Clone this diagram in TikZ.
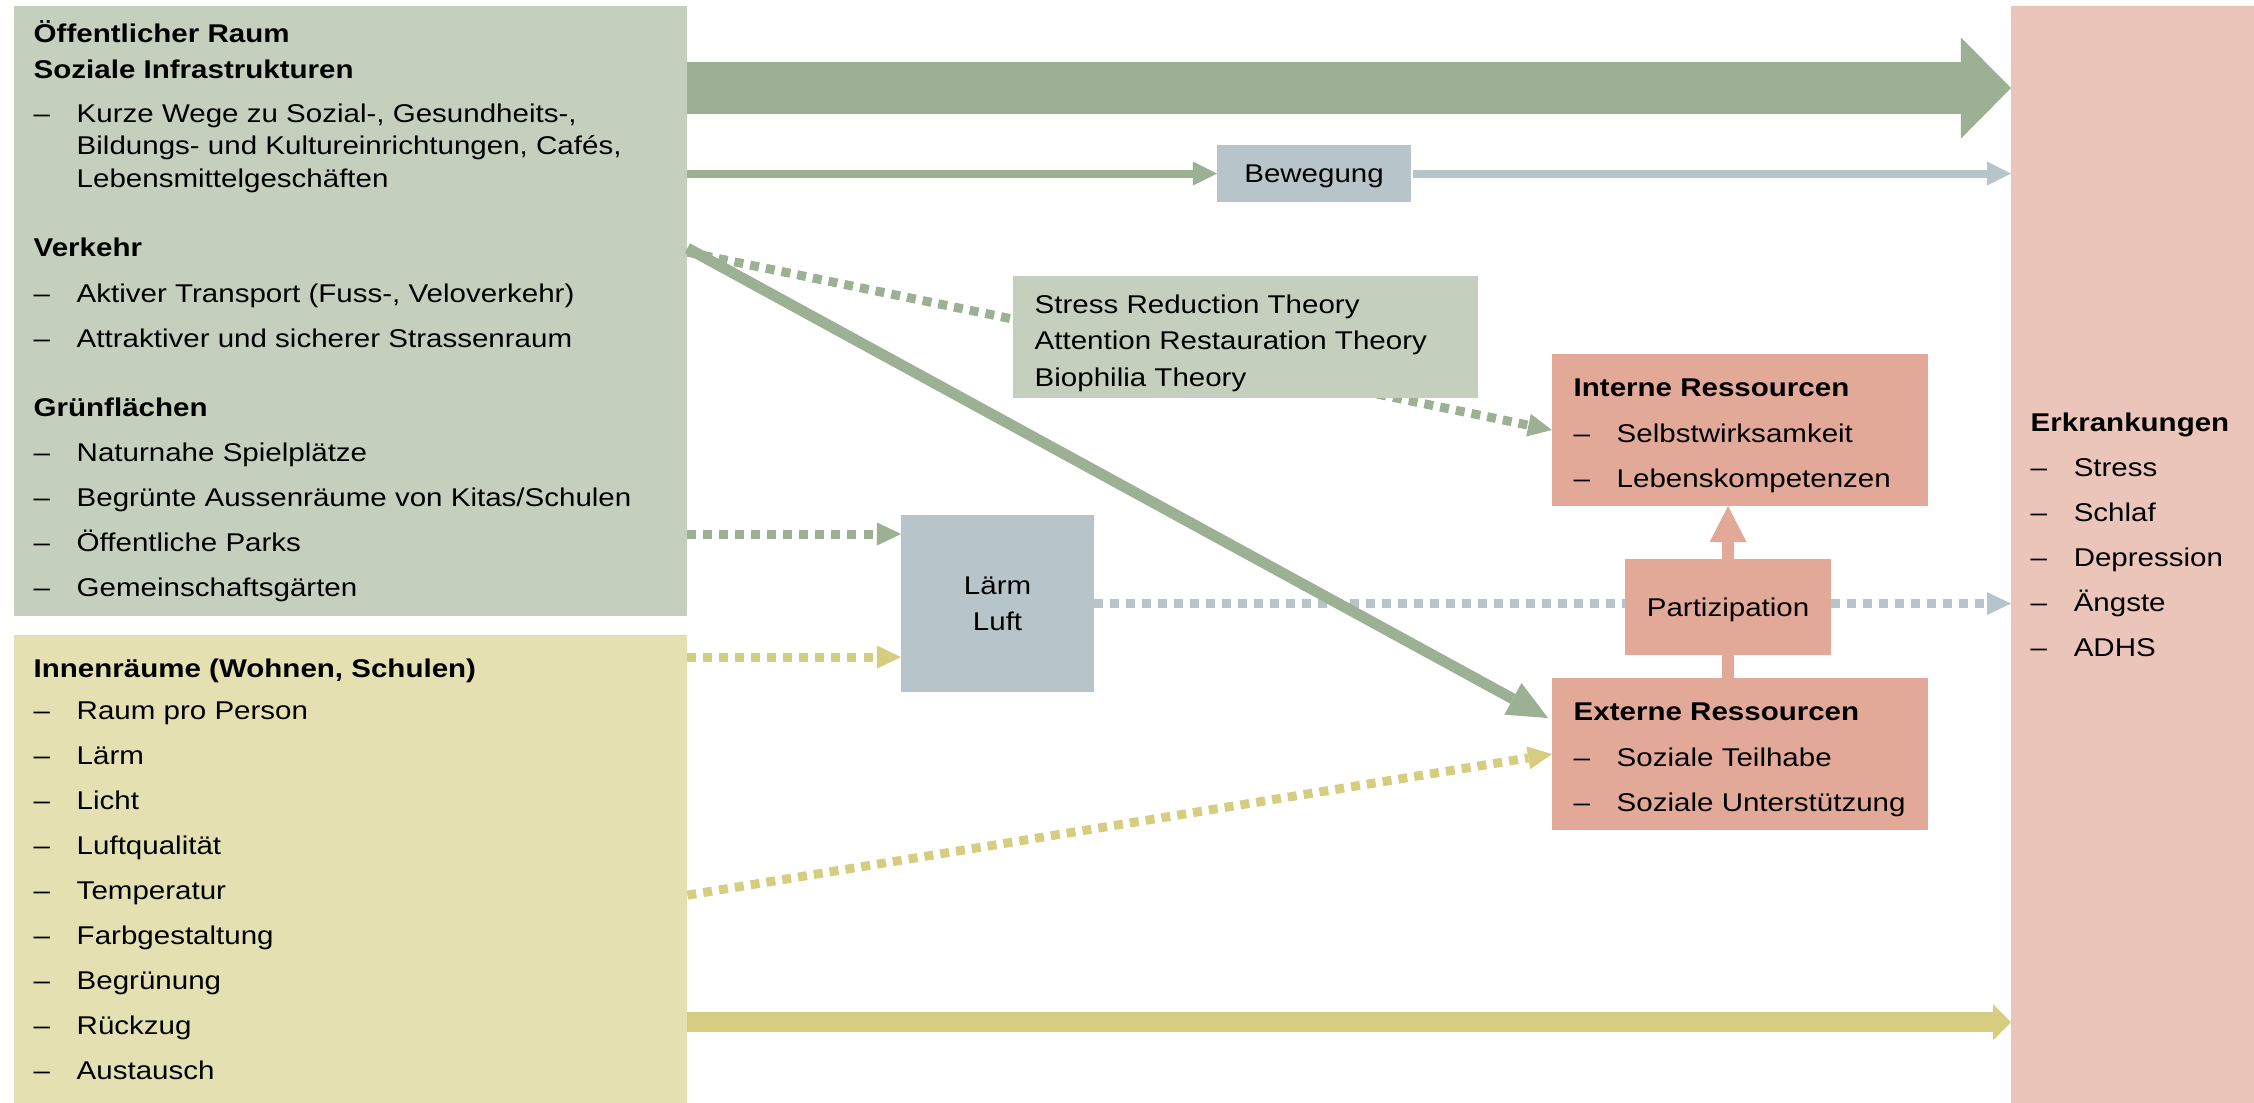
\documentclass[tikz,border=0pt]{standalone}
\usepackage{fontspec}
\setmainfont{Liberation Sans}[FakeStretch=1.15]
\usetikzlibrary{arrows.meta, positioning, backgrounds}

\definecolor{salbei}{HTML}{C4D0BD}
\definecolor{gruen}{HTML}{9CB093}
\definecolor{sand}{HTML}{E5E0B2}
\definecolor{gelb}{HTML}{D6CD81}
\definecolor{rosa}{HTML}{EBC5BA}
\definecolor{lachs}{HTML}{E2A998}
\definecolor{graublau}{HTML}{B7C4CA}

\newcommand{\strich}{\makebox[0.43cm][l]{--}}
\newcommand{\einzug}{\hspace*{0.43cm}}

\tikzset{
  kasten/.style={anchor=north west, inner sep=0pt, outer sep=0pt, text depth=0pt},
  liste/.style={align=left, inner sep=0pt},
  punktiert/.style={line width=0.09cm, dash pattern=on 0.09cm off 0.07cm,
    -{Triangle[length=0.24cm, width=0.23cm, line width=0pt]}},
}

\begin{document}
\begin{tikzpicture}[x=0.01cm, y=-0.01cm, font=\fontsize{7.3}{9.2}\selectfont]
    \useasboundingbox (0,0) rectangle (2254,1103);

    % Boxes on the left
    \node[kasten, fill=salbei, minimum width=6.73cm, minimum height=6.10cm] (oeffentlich) at (14,6) {};
    \node[kasten, fill=sand, minimum width=6.73cm, minimum height=4.68cm] (innen) at (14,635) {};

    % Box on the right
    \node[kasten, fill=rosa, minimum width=2.43cm, minimum height=10.97cm] (erkrankung) at (2011,6) {};

    % Boxes in the middle
    \node[kasten, fill=graublau, minimum width=1.94cm, minimum height=0.57cm] (bewegung) at (1217,145) {Bewegung};
    \node[kasten, fill=salbei, minimum width=4.65cm, minimum height=1.22cm] (theorie) at (1013,276) {};
    \node[kasten, fill=graublau, minimum width=1.93cm, minimum height=1.77cm, align=center] (laerm) at (901,515) {Lärm\\[1pt]Luft};
    \node[kasten, fill=lachs, minimum width=3.76cm, minimum height=1.52cm] (intern) at (1552,354) {};
    \node[kasten, fill=lachs, minimum width=2.06cm, minimum height=0.96cm] (partizipation) at (1625,559) {Partizipation};
    \node[kasten, fill=lachs, minimum width=3.76cm, minimum height=1.52cm] (extern) at (1552,678) {};

    % Texts in the boxes
    \node[liste, right=0.19cm of oeffentlich.west] (oeffentlich-text) {%
        \textbf{Öffentlicher Raum}\\[1pt]
        \textbf{Soziale Infrastrukturen}\\[3.4pt]
        \strich Kurze Wege zu Sozial-, Gesundheits-,\\
        \einzug Bildungs- und Kultureinrichtungen, Cafés,\\
        \einzug Lebensmittelgeschäften\\[10.5pt]
        \textbf{Verkehr}\\[3.8pt]
        \strich Aktiver Transport (Fuss-, Veloverkehr)\\[3.8pt]
        \strich Attraktiver und sicherer Strassenraum\\[10.2pt]
        \textbf{Grünflächen}\\[3.8pt]
        \strich Naturnahe Spielplätze\\[3.6pt]
        \strich Begrünte Aussenräume von Kitas/Schulen\\[3.4pt]
        \strich Öffentliche Parks\\[3.8pt]
        \strich Gemeinschaftsgärten};
    \node[liste, right=0.19cm of innen.west] (innen-text) {%
        \textbf{Innenräume (Wohnen, Schulen)}\\[2.7pt]
        \strich Raum pro Person\\[3.6pt]
        \strich Lärm\\[3.6pt]
        \strich Licht\\[3.6pt]
        \strich Luftqualität\\[3.6pt]
        \strich Temperatur\\[3.6pt]
        \strich Farbgestaltung\\[3.6pt]
        \strich Begrünung\\[3.6pt]
        \strich Rückzug\\[3.6pt]
        \strich Austausch};
    \node[liste, right=0.19cm of erkrankung.west, yshift=0.2cm] (erkrankung-text) {%
        \textbf{Erkrankungen}\\[3.6pt]
        \strich Stress\\[3.6pt]
        \strich Schlaf\\[3.6pt]
        \strich Depression\\[3.6pt]
        \strich Ängste\\[3.6pt]
        \strich ADHS};
    \node[liste, right=0.21cm of theorie.west, yshift=-0.06cm] (theorie-text) {%
        Stress Reduction Theory\\[1.2pt]
        Attention Restauration Theory\\[1.2pt]
        Biophilia Theory};
    \node[liste, right=0.21cm of intern.west, yshift=-0.06cm] (intern-text) {%
        \textbf{Interne Ressourcen}\\[3.8pt]
        \strich Selbstwirksamkeit\\[3.8pt]
        \strich Lebenskompetenzen};
    \node[liste, right=0.21cm of extern.west, yshift=-0.06cm] (extern-text) {%
        \textbf{Externe Ressourcen}\\[3.8pt]
        \strich Soziale Teilhabe\\[3.8pt]
        \strich Soziale Unterstützung};

    % Start points on the box edges
    \coordinate (raum) at ([yshift=-0.82cm]oeffentlich.north east);
    \coordinate (diagonal) at ([yshift=-2.42cm]oeffentlich.north east);
    \coordinate (stress) at ([yshift=-2.46cm]oeffentlich.north east);
    \coordinate (gruenpunkt) at ([yshift=-0.19cm]laerm.north west);
    \coordinate (gelbpunkt) at ([yshift=-1.42cm]laerm.north west);
    \coordinate (rueckzug) at ([yshift=-3.87cm]innen.north east);
    \coordinate (teilhabe) at ([xshift=-0.04cm, yshift=-0.40cm]extern.north west);

    % Solid arrows
    \draw[gruen, line width=0.52cm, -{Triangle[length=0.5cm, width=1.01cm, line width=0pt]}]
        (raum) -- (raum -| erkrankung.west);
    \draw[gruen, line width=0.08cm, -{Triangle[length=0.24cm, width=0.24cm, line width=0pt]}]
        (oeffentlich.east |- bewegung.west) -- (bewegung.west);
    \draw[graublau, line width=0.08cm, -{Triangle[length=0.24cm, width=0.24cm, line width=0pt]}]
        ([xshift=0.02cm]bewegung.east) -- (bewegung.east -| erkrankung.west);
    \draw[gelb, line width=0.2cm, -{Triangle[length=0.18cm, width=0.36cm, line width=0pt]}]
        (rueckzug) -- (rueckzug -| erkrankung.west);

    % Lines running behind the boxes
    \begin{scope}[on background layer]
        \draw[gruen, punktiert] (stress) -- (intern.west);
        \draw[graublau, punktiert] (laerm.east) -- (laerm.east -| erkrankung.west);
        \draw[lachs, line width=0.12cm, -{Triangle[length=0.36cm, width=0.37cm, line width=0pt]}]
            (partizipation.center |- extern.north) -- (partizipation.center |- intern.south);
    \end{scope}

    % Dotted arrows
    \draw[gruen, punktiert] (oeffentlich.east |- gruenpunkt) -- (gruenpunkt);
    \draw[gelb, punktiert] (innen.east |- gelbpunkt) -- (gelbpunkt);
    \draw[gelb, punktiert] ([yshift=-2.60cm]innen.north east) -- (extern.west);

    % Diagonal arrow to the external resources
    \draw[gruen, line width=0.11cm, -{Triangle[length=0.40cm, width=0.36cm, line width=0pt]}]
        (diagonal) -- (teilhabe);
\end{tikzpicture}
\end{document}
